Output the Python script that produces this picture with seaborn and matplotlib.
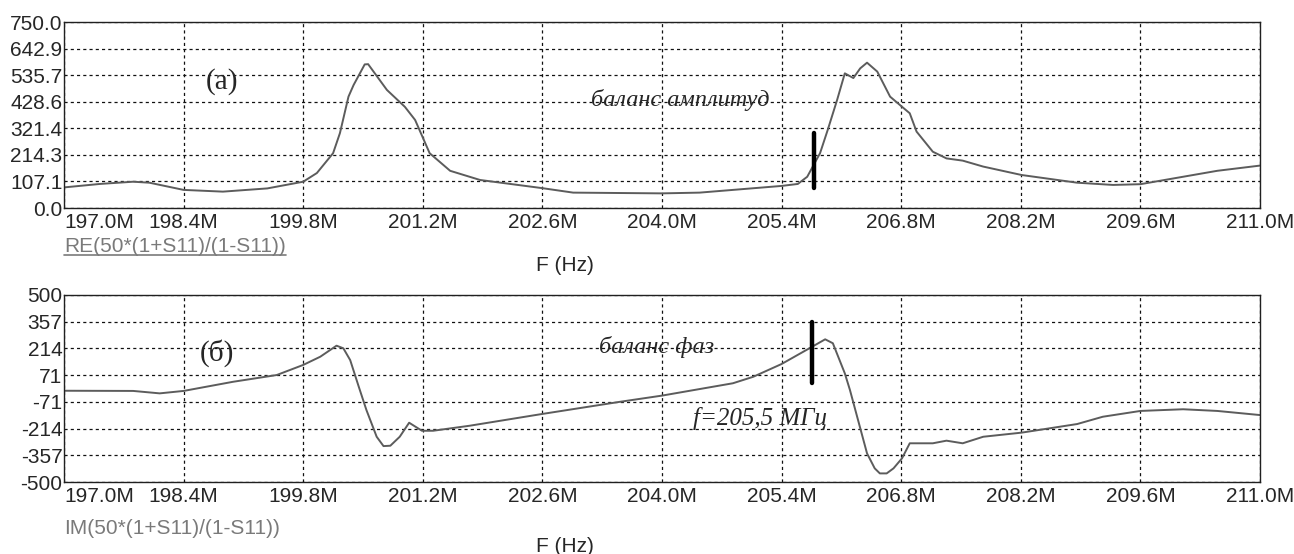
import matplotlib
matplotlib.use('Agg')
import matplotlib.pyplot as plt
import numpy as np
import seaborn as sns
from matplotlib.lines import Line2D

sns.set_style('white')
plt.rcParams['font.family'] = ['Liberation Sans', 'DejaVu Sans']
plt.rcParams['font.size'] = 15

# data (frequency in MHz)
re_freq = [197.0, 197.42, 197.81, 198.0, 198.4, 198.86, 199.38, 199.8, 199.96,
           200.15, 200.23, 200.33, 200.39, 200.52, 200.56, 200.78, 200.99, 201.11,
           201.28, 201.52, 201.87, 202.6, 202.96, 204.0, 204.44, 205.4, 205.59,
           205.7, 205.85, 205.94, 206.05, 206.14, 206.24, 206.32, 206.4, 206.52,
           206.67, 206.81, 206.9, 206.98, 207.17, 207.33, 207.52, 207.76, 208.21,
           208.86, 209.28, 209.6, 210.1, 210.5, 211.0]
re_vals = [83, 97, 106, 102, 73, 66, 79, 106, 141,
           221, 302, 449, 496, 579, 580, 476, 408, 355,
           221, 150, 113, 80, 62, 59, 62, 89, 97,
           126, 221, 315, 436, 543, 524, 563, 586, 550,
           449, 408, 382, 308, 227, 200, 191, 167, 133,
           102, 93, 96, 126, 150, 171]

im_freq = [197.0, 197.81, 198.12, 198.4, 198.98, 199.49, 199.8, 200.0, 200.19,
           200.27, 200.35, 200.45, 200.54, 200.66, 200.74, 200.82, 200.93, 201.04,
           201.19, 201.32, 201.75, 202.6, 203.51, 204.0, 204.83, 205.07, 205.4,
           205.76, 205.91, 206.0, 206.14, 206.2, 206.4, 206.49, 206.55, 206.63,
           206.71, 206.81, 206.9, 207.17, 207.33, 207.52, 207.76, 208.21, 208.86,
           209.16, 209.6, 210.1, 210.5, 211.0]
im_vals = [-12, -13, -26, -13, 36, 72, 126, 170, 229,
           215, 152, 10, -115, -258, -308, -306, -258, -183,
           -226, -226, -199, -136, -71, -38, 28, 63, 131,
           224, 263, 242, 81, -8, -347, -427, -454, -454,
           -427, -373, -293, -293, -279, -293, -258, -236, -190,
           -151, -120, -111, -120, -142]

x_ticks = [197.0, 198.4, 199.8, 201.2, 202.6, 204.0, 205.4, 206.8, 208.2, 209.6, 211.0]
re_ticks = np.linspace(0, 750, 8)
im_ticks = np.linspace(-500, 500, 8)

# balance markers
bal_amp_freq, bal_amp_span = 205.78, (81, 302)
bal_ph_freq, bal_ph_span = 205.76, (29, 356)

W, H = 1294, 554
fig = plt.figure(figsize=(W / 100, H / 100), dpi=100)
ax1 = fig.add_axes([64 / W, 1 - 208 / H, 1196 / W, 186 / H])
ax2 = fig.add_axes([64 / W, 1 - 482 / H, 1196 / W, 187 / H])

line_col = '#5c5c5c'
sns.lineplot(x=re_freq, y=re_vals, ax=ax1, color=line_col, linewidth=1.4)
sns.lineplot(x=im_freq, y=im_vals, ax=ax2, color=line_col, linewidth=1.4)


def style_axis(ax, yticks, ylabels):
    ax.set_xlim(197.0, 211.0)
    ax.set_ylim(yticks[0], yticks[-1])
    ax.set_xticks(x_ticks)
    labs = ax.set_xticklabels([f'{v:.1f}M' for v in x_ticks])
    labs[0].set_ha('left')
    ax.set_yticks(yticks)
    ax.set_yticklabels(ylabels)
    ax.tick_params(length=0, labelsize=15)
    ax.tick_params(axis='x', pad=3.5)
    ax.tick_params(axis='y', pad=1.0)
    ax.grid(True, color='#111111', linestyle=(0, (2.5, 2.5)), linewidth=0.9)
    for s in ax.spines.values():
        s.set_color('#202020')
        s.set_linewidth(1.0)


style_axis(ax1, re_ticks, [f'{v:.1f}' for v in re_ticks])
style_axis(ax2, im_ticks, [f'{int(round(v))}' for v in im_ticks])

ax1.plot([bal_amp_freq, bal_amp_freq], bal_amp_span, color='black', linewidth=3.2,
         solid_capstyle='round')
ax2.plot([bal_ph_freq, bal_ph_freq], bal_ph_span, color='black', linewidth=3.2,
         solid_capstyle='round')

serif = ['Liberation Serif', 'DejaVu Serif']
ax1.text(198.85, 508, '(a)', family=serif, fontsize=21, ha='center', va='center')
ax2.text(198.79, 190, '(б)', family=serif, fontsize=21, ha='center', va='center')
ax1.text(204.21, 435, 'баланс амплитуд', family=serif, style='italic', fontsize=17.5,
         ha='center', va='center')
ax2.text(203.94, 222, 'баланс фаз', family=serif, style='italic', fontsize=17.5,
         ha='center', va='center')
ax2.text(205.15, -158, 'f=205,5 МГц', family=serif, style='italic', fontsize=18,
         ha='center', va='center')

# trace names and axis titles
t1 = fig.text(64 / W, 1 - 247 / H, 'RE(50*(1+S11)/(1-S11))', color='#7a7a7a',
              fontsize=15, ha='left', va='center')
fig.text(64 / W, 1 - 528 / H, 'IM(50*(1+S11)/(1-S11))', color='#7a7a7a',
         fontsize=15, ha='left', va='center')
fig.text(565 / W, 1 - 266 / H, 'F (Hz)', fontsize=15, ha='center', va='center')
fig.text(565 / W, 1 - 546 / H, 'F (Hz)', fontsize=15, ha='center', va='center')

fig.canvas.draw()
bb = t1.get_window_extent()
uy = (H - 255) / H
fig.add_artist(Line2D([bb.x0 / W, bb.x1 / W], [uy, uy], color='#7a7a7a', linewidth=1.2))

fig.savefig('out.png', dpi=100)
